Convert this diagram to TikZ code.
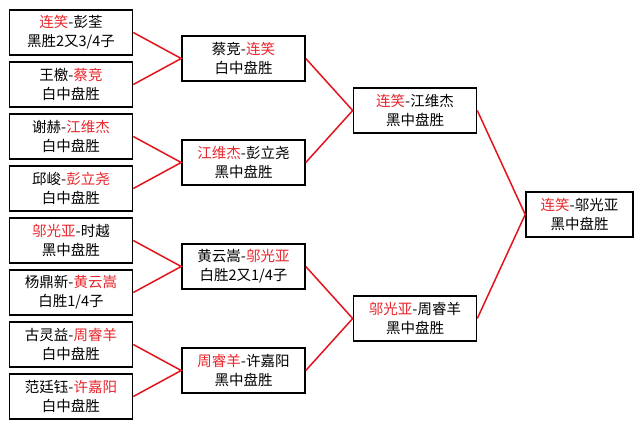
\documentclass[tikz,border=0pt]{standalone}
\usepackage{fontspec}
\newfontfamily\cjk{Noto Sans CJK SC}
\definecolor{winred}{HTML}{E8262C}
\definecolor{linkred}{HTML}{E4141C}
\newcommand\win[1]{\textcolor{winred}{#1}}
\begin{document}
\begin{tikzpicture}[x=1pt,y=-1pt,
  game/.style={draw=black,line width=1.6pt,fill=white,minimum width=123pt,minimum height=45pt,
    inner sep=0pt,align=center,font=\cjk\fontsize{14.5}{19}\selectfont},
  final/.style={game,minimum width=107pt},
  link/.style={draw=linkred,line width=1.5pt}]
\fill[white] (0,0) rectangle (643,429);
\useasboundingbox (0,0) rectangle (643,429);
% round 1
\node[game] (a1) at (71,32.5) {\win{连笑}-彭荃\\黑胜2又3/4子};
\node[game] (a2) at (71,84.5) {王檄-\win{蔡竞}\\白中盘胜};
\node[game] (a3) at (71,136.5) {谢赫-\win{江维杰}\\白中盘胜};
\node[game] (a4) at (71,188.5) {邱峻-\win{彭立尧}\\白中盘胜};
\node[game] (a5) at (71,240.5) {\win{邬光亚}-时越\\黑中盘胜};
\node[game] (a6) at (71,292.5) {杨鼎新-\win{黄云嵩}\\白胜1/4子};
\node[game] (a7) at (71,344.5) {古灵益-\win{周睿羊}\\白中盘胜};
\node[game] (a8) at (71,396.5) {范廷钰-\win{许嘉阳}\\白中盘胜};
% round 2
\node[game] (b1) at (243.5,58.5) {蔡竞-\win{连笑}\\白中盘胜};
\node[game] (b2) at (243.5,162.5) {\win{江维杰}-彭立尧\\黑中盘胜};
\node[game] (b3) at (243.5,266.5) {黄云嵩-\win{邬光亚}\\白胜2又1/4子};
\node[game] (b4) at (243.5,370.5) {\win{周睿羊}-许嘉阳\\黑中盘胜};
% round 3
\node[game] (c1) at (415,110.5) {\win{连笑}-江维杰\\黑中盘胜};
\node[game] (c2) at (415,318.5) {\win{邬光亚}-周睿羊\\黑中盘胜};
% final
\node[final] (d1) at (579.5,214.5) {\win{连笑}-邬光亚\\黑中盘胜};
% connectors
\draw[link] (a1.east) -- (b1.west) -- (a2.east);
\draw[link] (a3.east) -- (b2.west) -- (a4.east);
\draw[link] (a5.east) -- (b3.west) -- (a6.east);
\draw[link] (a7.east) -- (b4.west) -- (a8.east);
\draw[link] (b1.east) -- (c1.west) -- (b2.east);
\draw[link] (b3.east) -- (c2.west) -- (b4.east);
\draw[link] (c1.east) -- (d1.west) -- (c2.east);
\end{tikzpicture}
\end{document}
